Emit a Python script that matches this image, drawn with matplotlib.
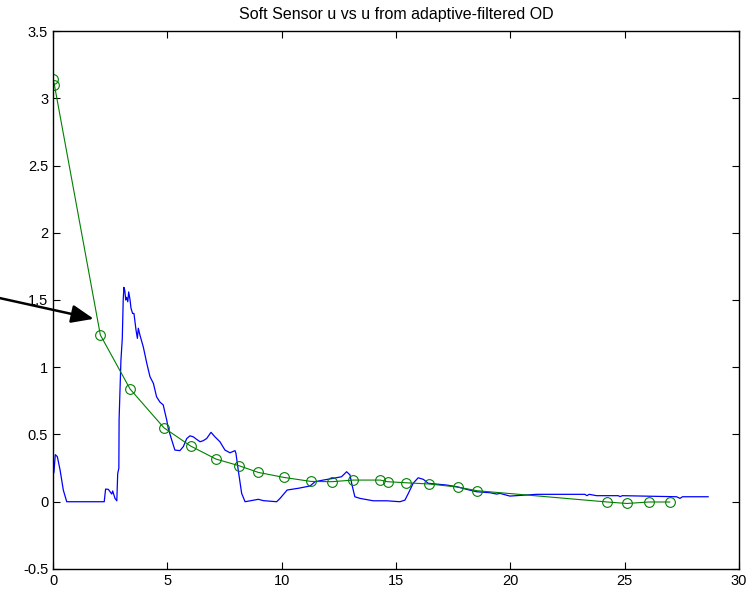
import matplotlib
matplotlib.use("Agg")
import matplotlib.pyplot as plt

plt.rcParams['font.family'] = ['Liberation Sans', 'DejaVu Sans']

# soft sensor u (blue trace)
soft_x = [0.0, 0.04, 0.1, 0.19, 0.31, 0.45, 0.6, 2.24, 2.3, 2.42, 2.57, 2.61, 2.71, 2.79,
          2.83, 2.88, 2.89, 2.97, 3.03, 3.07, 3.1, 3.14, 3.18, 3.22, 3.27, 3.31, 3.37,
          3.41, 3.48, 3.54, 3.63, 3.69, 3.73, 3.8, 3.95, 4.1, 4.24, 4.39, 4.53, 4.68,
          4.82, 4.9, 4.97, 5.04, 5.19, 5.33, 5.55, 5.7, 5.85, 5.99, 6.13, 6.28, 6.43,
          6.57, 6.72, 6.91, 7.08, 7.3, 7.52, 7.74, 7.96, 8.0, 8.1, 8.25, 8.4, 8.98,
          9.2, 9.78, 9.93, 10.24, 10.73, 11.24, 11.46, 11.82, 12.26, 12.62, 12.84,
          12.99, 13.06, 13.2, 13.42, 14.0, 14.59, 15.17, 15.39, 15.54, 15.75, 15.97,
          16.2, 16.41, 16.78, 17.21, 17.65, 18.09, 18.53, 19.11, 19.4, 19.55, 19.98,
          21.15, 23.26, 23.35, 23.45, 23.77, 24.72, 24.8, 24.9, 27.27, 27.42, 27.53,
          28.65]
soft_u = [0.2, 0.22, 0.35, 0.335, 0.235, 0.087, 0.0, 0.0, 0.094, 0.092, 0.057, 0.08,
          0.025, 0.007, 0.21, 0.25, 0.61, 1.05, 1.215, 1.5, 1.594, 1.57, 1.5, 1.52,
          1.487, 1.56, 1.5, 1.44, 1.4, 1.4, 1.277, 1.215, 1.29, 1.24, 1.15, 1.03, 0.93,
          0.88, 0.78, 0.74, 0.72, 0.66, 0.61, 0.545, 0.46, 0.384, 0.38, 0.41, 0.47,
          0.49, 0.483, 0.464, 0.446, 0.454, 0.47, 0.516, 0.483, 0.446, 0.384, 0.364,
          0.38, 0.36, 0.236, 0.062, 0.0, 0.018, 0.008, 0.0, 0.025, 0.087, 0.1, 0.117,
          0.149, 0.161, 0.174, 0.186, 0.223, 0.199, 0.137, 0.037, 0.025, 0.007, 0.007,
          0.0, 0.012, 0.062, 0.137, 0.178, 0.166, 0.137, 0.131, 0.124, 0.112, 0.092,
          0.074, 0.067, 0.057, 0.062, 0.042, 0.055, 0.055, 0.045, 0.055, 0.045, 0.045,
          0.038, 0.045, 0.037, 0.025, 0.037, 0.037]

# u from adaptive-filtered OD (green markers)
od_x = [0.0, 0.06, 2.07, 3.37, 4.85, 6.02, 7.13, 8.13, 8.98, 10.09, 11.28, 12.19,
        13.13, 14.31, 14.63, 15.43, 16.44, 17.7, 18.54, 24.24, 25.1, 26.05, 26.97]
od_u = [3.14, 3.1, 1.24, 0.838, 0.55, 0.414, 0.317, 0.268, 0.218, 0.181, 0.151, 0.149,
        0.161, 0.161, 0.149, 0.141, 0.132, 0.109, 0.082, -0.002, -0.013, -0.002, -0.002]

fig = plt.figure(figsize=(7.54, 5.92), dpi=100)
ax = fig.add_axes([0.0703, 0.0389, 0.9098, 0.9087])

ax.plot(soft_x, soft_u, color='#0000ff', linewidth=0.9)
ax.plot(od_x, od_u, color='#008000', linewidth=0.8, marker='o', markersize=7,
        markerfacecolor='none', markeredgecolor='#008000', markeredgewidth=0.8)

# arrow pointing at the OD point near t=2
ax.annotate('', xy=(1.78, 1.36), xytext=(-2.35, 1.515), xycoords='data',
            textcoords='data', annotation_clip=False,
            arrowprops=dict(arrowstyle='-|>,head_length=1.35,head_width=0.55',
                            color='black', linewidth=1.8, shrinkA=0, shrinkB=0))

ax.set_xlim(0, 30)
ax.set_ylim(-0.5, 3.5)
ax.set_xticks([0, 5, 10, 15, 20, 25, 30])
ax.set_yticks([-0.5, 0, 0.5, 1, 1.5, 2, 2.5, 3, 3.5])
ax.set_yticklabels(['-0.5', '0', '0.5', '1', '1.5', '2', '2.5', '3', '3.5'])
ax.tick_params(direction='in', top=True, right=True, labelsize=10.5, length=5, width=0.8)
for s in ax.spines.values():
    s.set_linewidth(1.0)

ax.set_title('Soft Sensor u vs u from adaptive-filtered OD', fontsize=11.5, pad=9)

fig.savefig('out.png', dpi=100)
